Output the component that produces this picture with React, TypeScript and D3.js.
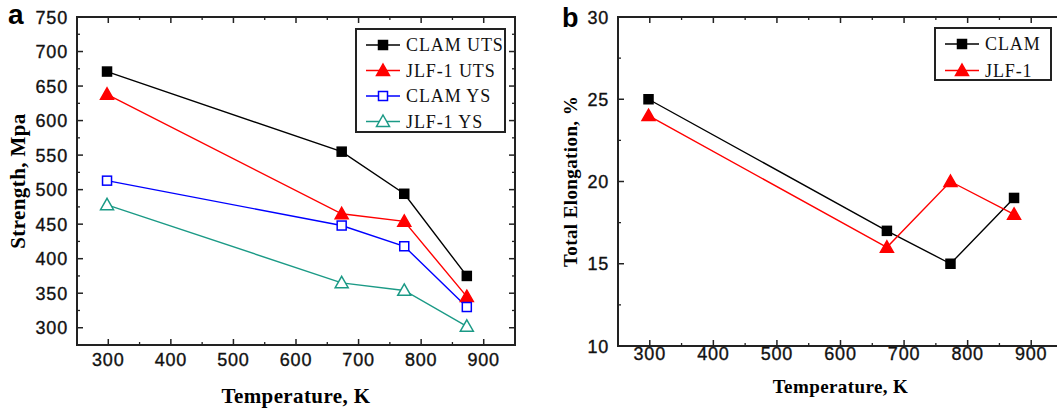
import React from 'react';
import * as d3 from 'd3';

// data
const temps = [298, 673, 773, 873];
const clamUts = [671, 555, 494, 375];
const jlfUts = [638, 465, 454, 345];
const clamYs = [513, 448, 418, 330];
const jlfYs = [478, 365, 354, 302];
const clamElong = [25, 17, 15, 19];
const jlfElong = [24, 16, 20, 18];

const xTicks = [300, 400, 500, 600, 700, 800, 900];
const strengthTicks = [300, 350, 400, 450, 500, 550, 600, 650, 700, 750];
const elongTicks = [10, 15, 20, 25, 30];

const SANS = '"Liberation Sans", Arial, sans-serif';
const SERIF = '"Liberation Serif", "DejaVu Serif", serif';

type Series = {
  name: string;
  values: number[];
  color: string;
  shape: 'square' | 'triangle';
  filled: boolean;
};

const seriesA: Series[] = [
  { name: 'CLAM UTS', values: clamUts, color: '#000000', shape: 'square', filled: true },
  { name: 'JLF-1 UTS', values: jlfUts, color: '#ff0000', shape: 'triangle', filled: true },
  { name: 'CLAM YS', values: clamYs, color: '#0000ff', shape: 'square', filled: false },
  { name: 'JLF-1 YS', values: jlfYs, color: '#1b9a86', shape: 'triangle', filled: false },
];

const seriesB: Series[] = [
  { name: 'CLAM', values: clamElong, color: '#000000', shape: 'square', filled: true },
  { name: 'JLF-1', values: jlfElong, color: '#ff0000', shape: 'triangle', filled: true },
];

function Marker({ x, y, s }: { x: number; y: number; s: Series }) {
  const fill = s.filled ? s.color : '#ffffff';
  if (s.shape === 'square') {
    const h = 4.5;
    return <rect x={x - h} y={y - h} width={h * 2} height={h * 2} fill={fill} stroke={s.color} strokeWidth={1.5} />;
  }
  const r = 6.5;
  const p = `M${x},${y - r} L${x + r},${y + r * 0.75} L${x - r},${y + r * 0.75} Z`;
  return <path d={p} fill={fill} stroke={s.color} strokeWidth={1.5} />;
}

type PanelProps = {
  letter: string;
  letterX: number;
  letterY: number;
  letterSize: number;
  left: number;
  right: number;
  top: number;
  bottom: number;
  yDomain: [number, number];
  yTicks: number[];
  yMinorStep: number;
  yLabel: string;
  yLabelX: number;
  labelSize: number;
  xLabelY: number;
  xTickY: number;
  series: Series[];
  legend: { x: number; y: number; w: number; h: number; rowH: number };
};

function Panel(p: PanelProps) {
  const x = d3.scaleLinear().domain([250, 950]).range([p.left, p.right]);
  const y = d3.scaleLinear().domain(p.yDomain).range([p.bottom, p.top]);

  const line = d3.line<number>()
    .x((_, i) => x(temps[i]))
    .y((d) => y(d));

  const xMinor = d3.range(250, 951, 50).filter((v) => v % 100 !== 0);
  const yMinor = d3.range(p.yDomain[0], p.yDomain[1] + 0.001, p.yMinorStep)
    .filter((v) => !p.yTicks.includes(v));

  const plotW = p.right - p.left;
  const midX = p.left + plotW / 2;
  const midY = (p.top + p.bottom) / 2;

  const tickText = { fontFamily: SANS, fontSize: 18, fill: '#111', stroke: '#111', strokeWidth: 0.35, letterSpacing: 0.8 };

  return (
    <g>
      <text x={p.letterX} y={p.letterY} fontFamily={SANS} fontWeight="bold" fontSize={p.letterSize}>{p.letter}</text>

      {/* data lines */}
      {p.series.map((s) => (
        <path key={s.name} d={line(s.values) || ''} fill="none" stroke={s.color} strokeWidth={1.4} />
      ))}
      {p.series.map((s) =>
        s.values.map((v, i) => <Marker key={s.name + i} x={x(temps[i])} y={y(v)} s={s} />)
      )}

      {/* frame */}
      <rect x={p.left} y={p.top} width={plotW} height={p.bottom - p.top} fill="none" stroke="#222" strokeWidth={2} />

      {/* x ticks, inside on bottom and top */}
      {xTicks.map((t) => (
        <g key={'xt' + t}>
          <line x1={x(t)} x2={x(t)} y1={p.bottom} y2={p.bottom - 6} stroke="#222" strokeWidth={1.5} />
          <line x1={x(t)} x2={x(t)} y1={p.top} y2={p.top + 6} stroke="#222" strokeWidth={1.5} />
          <text x={x(t)} y={p.xTickY} textAnchor="middle" {...tickText}>{t}</text>
        </g>
      ))}
      {xMinor.map((t) => (
        <g key={'xm' + t}>
          <line x1={x(t)} x2={x(t)} y1={p.bottom} y2={p.bottom - 3} stroke="#222" strokeWidth={1.3} />
          <line x1={x(t)} x2={x(t)} y1={p.top} y2={p.top + 3} stroke="#222" strokeWidth={1.3} />
        </g>
      ))}

      {/* y ticks, inside on left and right */}
      {p.yTicks.map((t) => (
        <g key={'yt' + t}>
          <line x1={p.left} x2={p.left + 6} y1={y(t)} y2={y(t)} stroke="#222" strokeWidth={1.5} />
          <line x1={p.right} x2={p.right - 6} y1={y(t)} y2={y(t)} stroke="#222" strokeWidth={1.5} />
          <text x={p.left - 9} y={y(t) + 6.5} textAnchor="end" {...tickText}>{t}</text>
        </g>
      ))}
      {yMinor.map((t) => (
        <g key={'ym' + t}>
          <line x1={p.left} x2={p.left + 3} y1={y(t)} y2={y(t)} stroke="#222" strokeWidth={1.3} />
          <line x1={p.right} x2={p.right - 3} y1={y(t)} y2={y(t)} stroke="#222" strokeWidth={1.3} />
        </g>
      ))}

      {/* axis titles */}
      <text x={midX} y={p.xLabelY} textAnchor="middle" fontFamily={SERIF} fontWeight="bold" fontSize={p.labelSize} letterSpacing={0.4}>Temperature, K</text>
      <text transform={`translate(${p.yLabelX},${midY}) rotate(-90)`} textAnchor="middle" fontFamily={SERIF} fontWeight="bold" fontSize={p.labelSize} letterSpacing={0.4}>{p.yLabel}</text>

      {/* legend */}
      <rect x={p.legend.x} y={p.legend.y} width={p.legend.w} height={p.legend.h} fill="#fff" stroke="#222" strokeWidth={2} />
      {p.series.map((s, i) => {
        const ly = p.legend.y + 16 + i * p.legend.rowH;
        const lx = p.legend.x + 10;
        return (
          <g key={'lg' + s.name}>
            <line x1={lx} x2={lx + 34} y1={ly} y2={ly} stroke={s.color} strokeWidth={1.5} />
            <Marker x={lx + 17} y={ly} s={s} />
            <text x={lx + 40} y={ly + 6} fontFamily={SERIF} fontSize={18} letterSpacing={0.9} fill="#111">{s.name}</text>
          </g>
        );
      })}
    </g>
  );
}

export default function App() {
  return (
    <svg width={1057} height={413} style={{ position: 'absolute', left: 0, top: 0, background: '#fff' }}>
      <Panel
        letter="a" letterX={8} letterY={24} letterSize={28}
        left={77} right={515} top={17} bottom={345}
        yDomain={[275, 750]} yTicks={strengthTicks} yMinorStep={25}
        yLabel="Strength, Mpa" yLabelX={25} labelSize={21}
        xLabelY={403} xTickY={366}
        series={seriesA}
        legend={{ x: 356, y: 29, w: 149, h: 103, rowH: 25.5 }}
      />
      <Panel
        letter="b" letterX={562} letterY={27} letterSize={27}
        left={618} right={1063} top={17} bottom={346}
        yDomain={[10, 30]} yTicks={elongTicks} yMinorStep={2.5}
        yLabel="Total Elongation, %" yLabelX={577} labelSize={19}
        xLabelY={393} xTickY={360}
        series={seriesB}
        legend={{ x: 935, y: 28, w: 116, h: 52, rowH: 26.5 }}
      />
    </svg>
  );
}
